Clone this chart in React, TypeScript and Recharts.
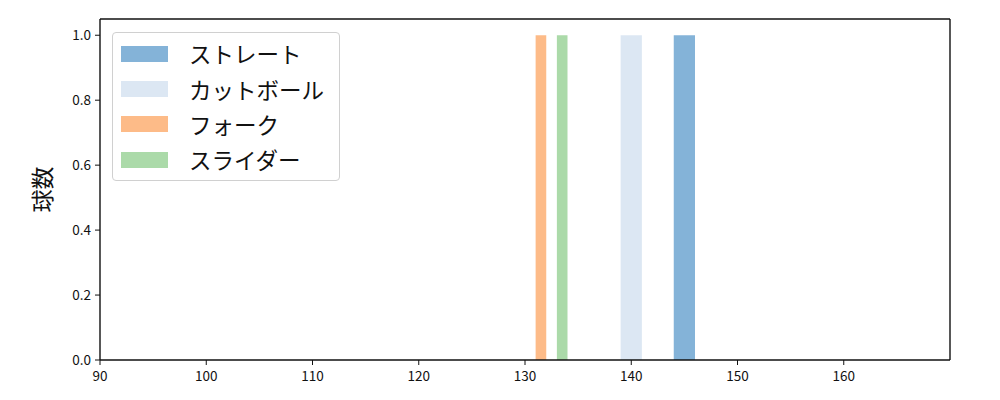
import React from "react"
import {
  ComposedChart,
  XAxis,
  YAxis,
  ReferenceArea,
  ReferenceLine,
} from "recharts"

// pitch types and their histogram bins (km/h)
const pitchNames = ["ストレート", "カットボール", "フォーク", "スライダー"]
const pitchColors = ["#84b3d8", "#dce7f3", "#fdbb88", "#abdaa9"]
const binStart = [144, 139, 131, 133]
const binEnd = [146, 141, 132, 134]
const binCount = [1, 1, 1, 1]

const xTicks = [90, 100, 110, 120, 130, 140, 150, 160]
const yTicks = [0, 0.2, 0.4, 0.6, 0.8, 1.0]

const font = "'Noto Sans CJK JP', 'Noto Sans', sans-serif"

const LegendBox = () => (
  <div
    style={{
      position: "absolute",
      left: 112,
      top: 32,
      border: "1px solid #d0d0d0",
      borderRadius: 4,
      background: "rgba(255,255,255,0.8)",
      padding: "3px 10px 3px 8px",
      width: 208,
      fontFamily: font,
    }}
  >
    {pitchNames.map((name, i) => (
      <div key={name} style={{ display: "flex", alignItems: "center", height: 35.3 }}>
        <div style={{ width: 47, height: 16, background: pitchColors[i], marginRight: 21 }} />
        <div style={{ fontSize: 22.5, color: "#111", lineHeight: 1 }}>{name}</div>
      </div>
    ))}
  </div>
)

export default function App() {
  const data = [
    { x: 90, y: 0 },
    { x: 170, y: 1.05 },
  ]
  return (
    <div style={{ position: "absolute", left: 0, top: 0, width: 1000, height: 400, background: "#fff" }}>
      <ComposedChart
        width={1000}
        height={400}
        data={data}
        margin={{ top: 19, right: 50, bottom: 0, left: 40 }}
      >
        <XAxis
          xAxisId="bottom"
          dataKey="x"
          type="number"
          domain={[90, 170]}
          ticks={xTicks}
          height={40}
          tickSize={5}
          tickMargin={6}
          stroke="#000"
          tick={{ fill: "#111", fontSize: 13.5, fontFamily: font }}
          axisLine={{ stroke: "#111", strokeWidth: 1.4 }}
          tickLine={{ stroke: "#111" }}
        />
        <YAxis
          yAxisId="left"
          dataKey="y"
          type="number"
          domain={[0, 1.05]}
          ticks={yTicks}
          width={60}
          tickSize={5}
          tickMargin={4}
          tickFormatter={(v: number) => v.toFixed(1)}
          tick={{ fill: "#111", fontSize: 13.5, fontFamily: font }}
          axisLine={{ stroke: "#111", strokeWidth: 1.4 }}
          tickLine={{ stroke: "#111" }}
          label={{
            value: "球数",
            angle: -90,
            position: "insideLeft",
            offset: 3,
            style: { fontSize: 23, fill: "#111", fontFamily: font, textAnchor: "middle" },
          }}
        />
        {pitchNames.map((name, i) => (
          <ReferenceArea
            key={name}
            xAxisId="bottom"
            yAxisId="left"
            x1={binStart[i]}
            x2={binEnd[i]}
            y1={0}
            y2={binCount[i]}
            fill={pitchColors[i]}
            fillOpacity={1}
            stroke="none"
            ifOverflow="visible"
          />
        ))}
        <ReferenceLine xAxisId="bottom" yAxisId="left" y={1.05} stroke="#111" strokeWidth={1.4} ifOverflow="visible" />
        <ReferenceLine xAxisId="bottom" yAxisId="left" x={170} stroke="#111" strokeWidth={1.4} ifOverflow="visible" />
      </ComposedChart>
      <LegendBox />
    </div>
  )
}
